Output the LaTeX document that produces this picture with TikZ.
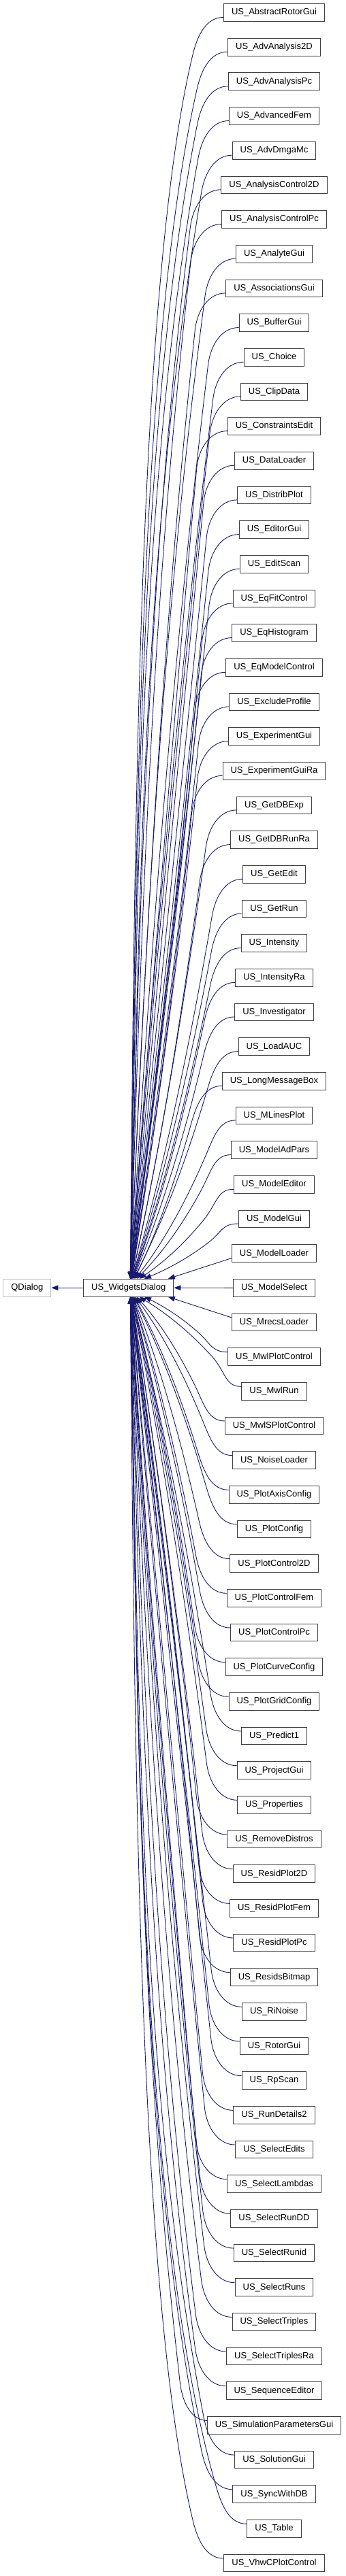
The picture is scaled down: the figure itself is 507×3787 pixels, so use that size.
\documentclass[tikz,border=0pt]{standalone}
\usepackage{fontspec}
\setmainfont{Liberation Sans}
\usetikzlibrary{arrows.meta}
\definecolor{edgeblue}{RGB}{25,25,112}
\definecolor{boxgray}{RGB}{64,64,64}
\definecolor{lightgray}{RGB}{191,191,191}
\tikzset{
  cls/.style={draw=boxgray, line width=1pt, fill=white, minimum height=25.7pt, inner xsep=11.5pt, inner ysep=0pt, font=\fontsize{13}{15}\selectfont},
  extcls/.style={cls, draw=lightgray},
  edge/.style={draw=edgeblue, line width=0.9pt, -{Triangle[length=10pt,width=7.5pt]}}
}
\begin{document}
\begin{tikzpicture}[x=1pt,y=-1pt]
\useasboundingbox (0,0) rectangle (507,3787);
\fill[white] (0,0) rectangle (507,3787);
\node[extcls] (q) at (39.85,1893.2) {QDialog};
\node[cls] (w) at (188.8,1893.2) {US\_WidgetsDialog};
\draw[edge] (w.west) -- (q.east);
\foreach \n [count=\i] in {AbstractRotorGui,AdvAnalysis2D,AdvAnalysisPc,AdvancedFem,AdvDmgaMc,AnalysisControl2D,AnalysisControlPc,AnalyteGui,AssociationsGui,BufferGui,Choice,ClipData,ConstraintsEdit,DataLoader,DistribPlot,EditorGui,EditScan,EqFitControl,EqHistogram,EqModelControl,ExcludeProfile,ExperimentGui,ExperimentGuiRa,GetDBExp,GetDBRunRa,GetEdit,GetRun,Intensity,IntensityRa,Investigator,LoadAUC,LongMessageBox,MLinesPlot,ModelAdPars,ModelEditor,ModelGui,ModelLoader,ModelSelect,MrecsLoader,MwlPlotControl,MwlRun,MwlSPlotControl,NoiseLoader,PlotAxisConfig,PlotConfig,PlotControl2D,PlotControlFem,PlotControlPc,PlotCurveConfig,PlotGridConfig,Predict1,ProjectGui,Properties,RemoveDistros,ResidPlot2D,ResidPlotFem,ResidPlotPc,ResidsBitmap,RiNoise,RotorGui,RpScan,RunDetails2,SelectEdits,SelectLambdas,SelectRunDD,SelectRunid,SelectRuns,SelectTriples,SelectTriplesRa,SequenceEditor,SimulationParametersGui,SolutionGui,SyncWithDB,Table,VhwCPlotControl} {
  \pgfmathsetmacro\yc{18.5+(\i-1)*50.67}
  \node[cls] (c\i) at (402.5,\yc) {US\_\n};
  \pgfmathtruncatemacro\kk{abs(38-\i)}
  \ifnum\i=38
    \draw[edge] (c\i.west) -- (w.east);
  \else
    \ifnum\i<38
      \def\sg{1}\def\myyt{1880.35}\def\anc{north}\def\ysh{-7pt}
    \else
      \def\sg{-1}\def\myyt{1906.05}\def\anc{south}\def\ysh{7pt}
    \fi
    \coordinate (s\i) at ([yshift=\ysh]c\i.west);
    \ifnum\kk=1
      \draw[edge] (s\i) -- ([xshift=58pt]w.\anc);
    \else
      \path (s\i); \pgfgetlastxy{\wx}{\wy}
      \pgfmathsetmacro\xz{\wx}
      \pgfmathsetmacro\yz{-\wy}
      \pgfmathsetmacro\xs{44/\kk+1.2}
      \pgfmathsetmacro\xt{188.8+\xs}
      \pgfmathsetmacro\DD{\sg*(\myyt-\yz)}
      \pgfmathsetmacro\HH{\xz-\xt}
      \pgfmathsetmacro\tx{min(45,0.35*\HH)}
      \pgfmathsetmacro\ty{min(55,0.35*\DD)}
      \pgfmathsetmacro\Mx{\xz-\tx}
      \pgfmathsetmacro\My{\yz+\sg*\ty}
      \pgfmathsetmacro\Dy{\DD-\ty}
      \pgfmathsetmacro\Dx{\Mx-\xt}
      \pgfmathsetmacro\sz{\Dx/\Dy}
      \pgfmathsetmacro\rr{0.75+4*exp(-0.2*(37-\kk))}
      \pgfmathsetmacro\sM{\rr*\sz}
      \pgfmathsetmacro\sT{\sz/\rr}
      \pgfmathsetmacro\la{min(0.3333,0.9/\rr)}
      \pgfmathsetmacro\Ax{\xz-0.55*\tx}
      \pgfmathsetmacro\Bx{\Mx+0.55*\ty*\sM}
      \pgfmathsetmacro\By{\My-\sg*0.55*\ty}
      \pgfmathsetmacro\Cx{\Mx-\la*\Dy*\sM}
      \pgfmathsetmacro\Cy{\My+\sg*\la*\Dy}
      \pgfmathsetmacro\Ex{\xt+\Dy/3*\sT}
      \pgfmathsetmacro\Ey{\myyt-\sg*\Dy/3}
      \coordinate (t\i) at ([xshift=\xs pt]w.\anc);
      \draw[edge] (s\i) .. controls (\Ax,\yz) and (\Bx,\By) .. (\Mx,\My)
                        .. controls (\Cx,\Cy) and (\Ex,\Ey) .. (t\i);
    \fi
  \fi
}
\end{tikzpicture}
\end{document}
